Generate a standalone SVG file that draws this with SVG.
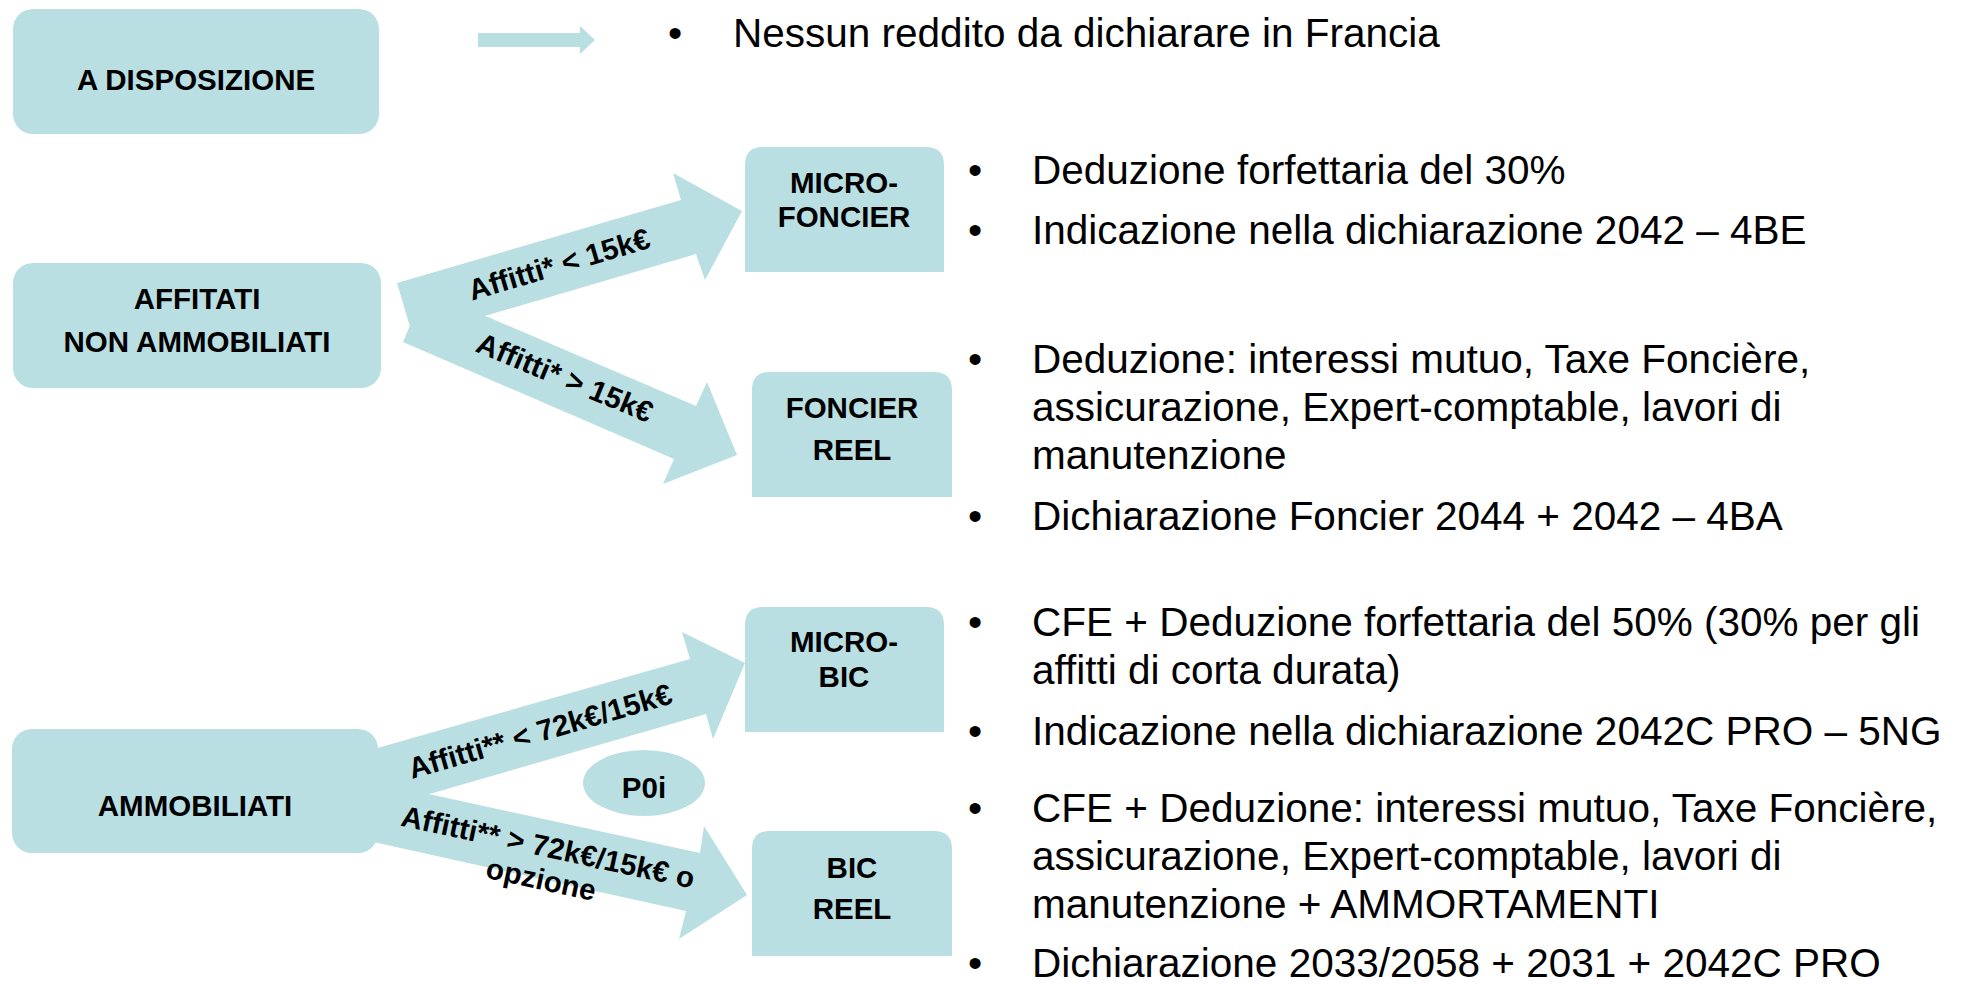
<svg xmlns="http://www.w3.org/2000/svg" width="1964" height="984" viewBox="0 0 1964 984">
<style>
.shape{fill:#B9DFE3;stroke:none}
.lbl{font-family:"Liberation Sans",Arial,sans-serif;font-weight:bold;font-size:29.5px;fill:#000;text-anchor:middle}
.txt{font-family:"Liberation Sans",Arial,sans-serif;font-size:40.5px;fill:#000}
.bul{font-family:"Liberation Sans",Arial,sans-serif;font-size:40.5px;fill:#000;text-anchor:middle}
</style>
<rect width="1964" height="984" fill="#fff"/>
<g id="connectors">
  <polygon class="shape" points="478,33 580,33 580,26 595,40 580,54 580,47 478,47"/>
  <polygon class="shape" points="397,283 681,200 673,173 742,211 705,280 696,254 413,337"/>
  <polygon class="shape" points="425,290 696,406 707,382 737,455 663,484 674,459 403,342"/>
  <polygon class="shape" points="360,753 690,659 682,632 745,663 713,739 706,714 360,814"/>
  <polygon class="shape" points="360,779 700,853 704,826 747,895 679,939 686,911 360,839"/>
  <text class="lbl" transform="translate(562,274) rotate(-16.5)">Affitti* &lt; 15k€</text>
  <text class="lbl" transform="translate(561,387) rotate(22.5)">Affitti* &gt; 15k€</text>
  <text class="lbl" transform="translate(543,741) rotate(-16.2)">Affitti** &lt; 72k€/15k€</text>
  <text class="lbl" transform="translate(546,857) rotate(12.2)">Affitti** &gt; 72k€/15k€ o<tspan x="0" dy="33">opzione</tspan></text>
</g>
<g id="node-disposizione">
  <rect class="shape" x="13" y="9" width="366" height="125" rx="20" ry="20"/>
  <text class="lbl" x="196" y="90">A DISPOSIZIONE</text>
</g>
<g id="node-affitati">
  <rect class="shape" x="13" y="263" width="368" height="125" rx="20" ry="20"/>
  <text class="lbl" x="197" y="309">AFFITATI</text>
  <text class="lbl" x="197" y="352">NON AMMOBILIATI</text>
</g>
<g id="node-ammobiliati">
  <rect class="shape" x="12" y="729" width="366" height="124" rx="20" ry="20"/>
  <text class="lbl" x="195" y="816">AMMOBILIATI</text>
</g>
<g id="node-microfoncier">
  <path class="shape" d="M745,272 V165 Q745,147 763,147 H926 Q944,147 944,165 V272 Z"/>
  <text class="lbl" x="844" y="193">MICRO-</text>
  <text class="lbl" x="844" y="227">FONCIER</text>
</g>
<g id="node-foncierreel">
  <path class="shape" d="M752,497 V390 Q752,372 770,372 H934 Q952,372 952,390 V497 Z"/>
  <text class="lbl" x="852" y="418">FONCIER</text>
  <text class="lbl" x="852" y="460">REEL</text>
</g>
<g id="node-microbic">
  <path class="shape" d="M745,732 V625 Q745,607 763,607 H926 Q944,607 944,625 V732 Z"/>
  <text class="lbl" x="844" y="652">MICRO-</text>
  <text class="lbl" x="844" y="687">BIC</text>
</g>
<g id="node-bicreel">
  <path class="shape" d="M752,956 V849 Q752,831 770,831 H934 Q952,831 952,849 V956 Z"/>
  <text class="lbl" x="852" y="878">BIC</text>
  <text class="lbl" x="852" y="919">REEL</text>
</g>
<g id="node-p0i">
  <ellipse class="shape" cx="644" cy="783" rx="61" ry="33"/>
  <text class="lbl" x="644" y="798">P0i</text>
</g>
<g id="notes">
  <text class="bul" x="675" y="47">•</text>
  <text class="txt" x="733" y="47">Nessun reddito da dichiarare in Francia</text>
  <text class="bul" x="975" y="184">•</text>
  <text class="txt" x="1032" y="184">Deduzione forfettaria del 30%</text>
  <text class="bul" x="975" y="244">•</text>
  <text class="txt" x="1032" y="244">Indicazione nella dichiarazione 2042 – 4BE</text>
  <text class="bul" x="975" y="373">•</text>
  <text class="txt" x="1032" y="373">Deduzione: interessi mutuo, Taxe Foncière,</text>
  <text class="txt" x="1032" y="421">assicurazione, Expert-comptable, lavori di</text>
  <text class="txt" x="1032" y="469">manutenzione</text>
  <text class="bul" x="975" y="530">•</text>
  <text class="txt" x="1032" y="530">Dichiarazione Foncier 2044 + 2042 – 4BA</text>
  <text class="bul" x="975" y="636">•</text>
  <text class="txt" x="1032" y="636">CFE + Deduzione forfettaria del 50% (30% per gli</text>
  <text class="txt" x="1032" y="684">affitti di corta durata)</text>
  <text class="bul" x="975" y="745">•</text>
  <text class="txt" x="1032" y="745">Indicazione nella dichiarazione 2042C PRO – 5NG</text>
  <text class="bul" x="975" y="822">•</text>
  <text class="txt" x="1032" y="822">CFE + Deduzione: interessi mutuo, Taxe Foncière,</text>
  <text class="txt" x="1032" y="870">assicurazione, Expert-comptable, lavori di</text>
  <text class="txt" x="1032" y="918">manutenzione + AMMORTAMENTI</text>
  <text class="bul" x="975" y="977">•</text>
  <text class="txt" x="1032" y="977">Dichiarazione 2033/2058 + 2031 + 2042C PRO</text>
</g>
</svg>
